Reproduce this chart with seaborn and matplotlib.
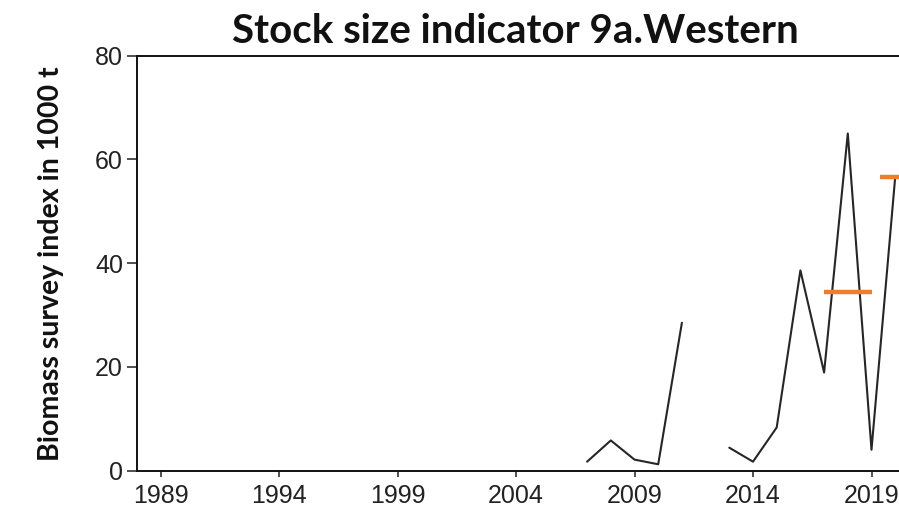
import numpy as np
import pandas as pd
import matplotlib
matplotlib.use("Agg")
import matplotlib.pyplot as plt
import seaborn as sns

# Survey biomass index (1000 t); 2012 has no survey
years = [2007, 2008, 2009, 2010, 2011, 2013, 2014, 2015, 2016, 2017, 2018, 2019, 2020]
biomass = [1.7, 5.8, 2.1, 1.2, 28.5, 4.4, 1.7, 8.3, 38.6, 18.9, 65.0, 4.0, 56.6]
segment = [1, 1, 1, 1, 1, 2, 2, 2, 2, 2, 2, 2, 2]

# Mean index over the advice reference periods
period_start = [2017.0, 2019.35]
period_end = [2019.0, 2021.0]
period_mean = [34.5, 56.7]

tick_years = [1989, 1994, 1999, 2004, 2009, 2014, 2019]
y_ticks = [0, 20, 40, 60, 80]

title = "Stock size indicator 9a.Western"
ylabel = "Biomass survey index in 1000 t"

sns.set_style("ticks")
plt.rcParams["font.family"] = ["Liberation Sans Narrow", "Liberation Sans", "DejaVu Sans"]

W, H = 899, 515
fig = plt.figure(figsize=(W / 100, H / 100), dpi=100)
x0, x1 = 1988.0, 2021.0
px_left, px_right = 136.8, 918.9
px_top, px_bottom = 55.7, 470.5
ax = fig.add_axes([px_left / W, (H - px_bottom) / H,
                   (px_right - px_left) / W, (px_bottom - px_top) / H])

series = pd.DataFrame({"year": years, "biomass": biomass, "segment": segment})
sns.lineplot(data=series, x="year", y="biomass", units="segment", estimator=None,
             color="#262626", linewidth=1.5, ax=ax, legend=False)

periods = pd.DataFrame({
    "year": period_start + period_end,
    "value": period_mean + period_mean,
    "period": list(range(len(period_mean))) * 2,
})
sns.lineplot(data=periods, x="year", y="value", units="period", estimator=None,
             color="#F07C2E", linewidth=3.2, ax=ax, legend=False,
             solid_capstyle="butt")

ax.set_xlim(x0, x1)
ax.set_ylim(0, 80)
ax.set_xticks(tick_years)
ax.set_xticklabels([str(t) for t in tick_years])
ax.set_yticks(y_ticks)
ax.set_yticklabels([str(t) for t in y_ticks])
ax.tick_params(axis="x", length=4, width=1.1, labelsize=18, pad=6, colors="#222222")
ax.tick_params(axis="y", length=7, width=1.1, labelsize=18, pad=3, colors="#222222")
for side in ["left", "bottom", "top"]:
    ax.spines[side].set_linewidth(1.4)
    ax.spines[side].set_color("#111111")
ax.spines["right"].set_visible(False)

ax.set_xlabel("")
ax.set_ylabel(ylabel, family=["Lato", "DejaVu Sans"], fontweight="bold",
              fontsize=20.5, color="#111111")
ax.yaxis.set_label_coords((64 - px_left) / (px_right - px_left),
                          (px_bottom - 264) / (px_bottom - px_top))

fig.text(515 / W, (H - 43) / H, title, ha="center", va="baseline",
         family=["Lato", "DejaVu Sans"], fontweight="bold", fontsize=29,
         color="#111111")

fig.savefig("out.png", dpi=100)
